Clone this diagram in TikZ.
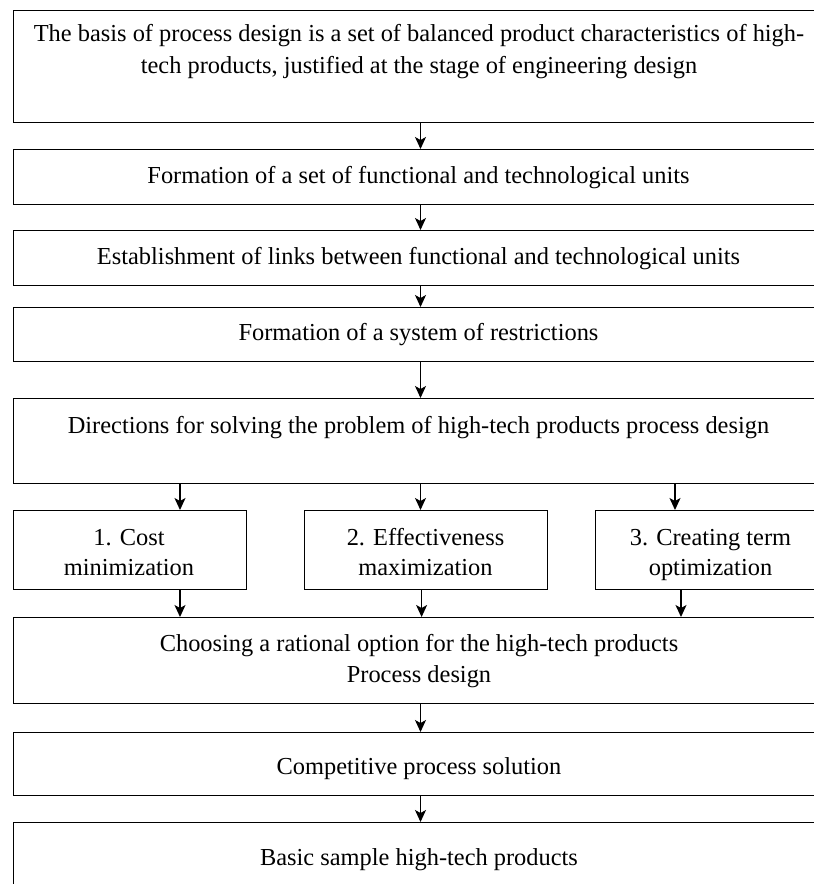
\documentclass[tikz,border=0pt]{standalone}
\usepackage{fontspec}
\setmainfont{Liberation Serif}
\usetikzlibrary{arrows.meta}
\tikzset{
  box/.style={draw=black, line width=1.1pt, inner sep=0pt, anchor=north west, rectangle},
  txt/.style={inner sep=0pt, anchor=base, font=\fontsize{24.4}{31}\selectfont, align=center},
  arr/.style={draw=black, line width=1.3pt, -{Stealth[length=12pt, width=11pt, inset=3pt]}}
}
\begin{document}
\begin{tikzpicture}[x=1pt, y=-1pt]
\useasboundingbox (0,0) rectangle (814,884);
\clip (0,0) rectangle (814,884);
% main boxes
\node[box, minimum width=815.5pt, minimum height=111.7pt] (b1) at (12.5,10) {};
\node[box, minimum width=815.5pt, minimum height=55pt] (b2) at (12.5,149) {};
\node[box, minimum width=815.5pt, minimum height=55pt] (b3) at (12.5,230) {};
\node[box, minimum width=815.5pt, minimum height=54pt] (b4) at (12.5,307) {};
\node[box, minimum width=815.5pt, minimum height=85pt] (b5) at (12.5,398) {};
\node[box, minimum width=233pt, minimum height=79pt] (sa) at (12.5,510) {};
\node[box, minimum width=243pt, minimum height=79pt] (sb) at (304,510) {};
\node[box, minimum width=231pt, minimum height=79pt] (sc) at (595,510) {};
\node[box, minimum width=815.5pt, minimum height=86pt] (b6) at (12.5,617) {};
\node[box, minimum width=815.5pt, minimum height=63pt] (b7) at (12.5,732) {};
\node[box, minimum width=815.5pt, minimum height=80pt] (b8) at (12.5,822) {};
% texts
\node[txt] (t1a) at (419,41.7) {The basis of process design is a set of balanced product characteristics of high-};
\node[txt] (t1b) at (419,73) {tech products, justified at the stage of engineering design};
\node[txt] (t2) at (418.5,183) {Formation of a set of functional and technological units};
\node[txt] (t3) at (418.5,264.5) {Establishment of links between functional and technological units};
\node[txt] (t4) at (418.5,340.5) {Formation of a system of restrictions};
\node[txt] (t5) at (418.5,433.5) {Directions for solving the problem of high-tech products process design};
\node[txt] (tsa1) at (129,545.5) {1. Cost};
\node[txt] (tsa2) at (129,575.5) {minimization};
\node[txt] (tsb1) at (425.5,545.5) {2. Effectiveness};
\node[txt] (tsb2) at (425.5,575.5) {maximization};
\node[txt] (tsc1) at (710.5,545.5) {3. Creating term};
\node[txt] (tsc2) at (710.5,575.5) {optimization};
\node[txt] (t6a) at (419,651.5) {Choosing a rational option for the high-tech products};
\node[txt] (t6b) at (419,682.5) {Process design};
\node[txt] (t7) at (419,774.5) {Competitive process solution};
\node[txt] (t8) at (419,865.5) {Basic sample high-tech products};
% arrow columns
\coordinate (xm) at (420.5,0);
\coordinate (xa) at (180,0);
\coordinate (xb) at (420.5,0);
\coordinate (xc) at (675,0);
\coordinate (xa2) at (180,0);
\coordinate (xb2) at (421.6,0);
\coordinate (xc2) at (681,0);
% connectors
\draw[arr] (xm |- b1.south) -- (xm |- b2.north);
\draw[arr] (xm |- b2.south) -- (xm |- b3.north);
\draw[arr] (xm |- b3.south) -- (xm |- b4.north);
\draw[arr] (xm |- b4.south) -- (xm |- b5.north);
\draw[arr] (xa |- b5.south) -- (xa |- sa.north);
\draw[arr] (xb |- b5.south) -- (xb |- sb.north);
\draw[arr] (xc |- b5.south) -- (xc |- sc.north);
\draw[arr] (xa2 |- sa.south) -- (xa2 |- b6.north);
\draw[arr] (xb2 |- sb.south) -- (xb2 |- b6.north);
\draw[arr] (xc2 |- sc.south) -- (xc2 |- b6.north);
\draw[arr] (xm |- b6.south) -- (xm |- b7.north);
\draw[arr] (xm |- b7.south) -- (xm |- b8.north);
\end{tikzpicture}
\end{document}
